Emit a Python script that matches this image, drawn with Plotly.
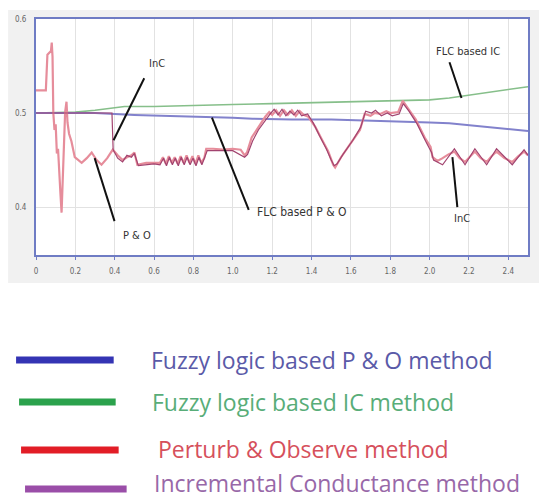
import plotly.graph_objects as go

# ---- data -------------------------------------------------------------
x_ticks = [0, 0.2, 0.4, 0.6, 0.8, 1.0, 1.2, 1.4, 1.6, 1.8, 2.0, 2.2, 2.4]
x_tick_text = ["0", "0.2", "0.4", "0.6", "0.8", "1.0", "1.2", "1.4", "1.6", "1.8", "2.0", "2.2", "2.4"]
y_ticks = [0.4, 0.5, 0.6]
y_tick_text = ["0.4", "0.5", "0.6"]

# Fuzzy logic based P & O
flc_po_t = [0, 0.3, 0.5, 0.7, 0.9, 1.0, 1.1, 1.3, 1.5, 1.7, 1.9, 2.0, 2.1, 2.2, 2.3, 2.4, 2.5]
flc_po_v = [0.500, 0.500, 0.498, 0.497, 0.496, 0.495, 0.494, 0.493, 0.493, 0.492,
            0.491, 0.490, 0.489, 0.487, 0.485, 0.483, 0.481]

# Fuzzy logic based IC
flc_ic_t = [0, 0.2, 0.3, 0.4, 0.45, 0.6, 0.9, 1.0, 1.2, 1.6, 1.9, 2.0, 2.1, 2.2, 2.3, 2.4, 2.5]
flc_ic_v = [0.500, 0.501, 0.503, 0.506, 0.507, 0.507, 0.508, 0.509, 0.510, 0.512,
            0.513, 0.514, 0.516, 0.519, 0.522, 0.525, 0.528]

# Perturb & Observe
po_t = [0.000, 0.050, 0.058, 0.070, 0.076, 0.080, 0.084, 0.088, 0.094, 0.100,
        0.106, 0.112, 0.118, 0.124, 0.130, 0.136, 0.142, 0.148, 0.155, 0.160,
        0.168, 0.180, 0.197, 0.215, 0.232, 0.258, 0.283, 0.308, 0.333, 0.362,
        0.390, 0.415, 0.440, 0.462, 0.485, 0.500, 0.515, 0.560, 0.600, 0.630,
        0.645, 0.660, 0.675, 0.690, 0.705, 0.720, 0.735, 0.750, 0.765, 0.780,
        0.795, 0.810, 0.825, 0.840, 0.855, 0.865, 0.900, 0.950, 1.000, 1.040,
        1.060, 1.072, 1.096, 1.130, 1.165, 1.185, 1.200, 1.220, 1.240, 1.260,
        1.280, 1.300, 1.320, 1.340, 1.360, 1.384, 1.420, 1.450, 1.485, 1.510,
        1.520, 1.550, 1.600, 1.646, 1.670, 1.700, 1.720, 1.750, 1.780, 1.800,
        1.840, 1.864, 1.890, 1.930, 1.975, 2.005, 2.015, 2.040, 2.066, 2.096,
        2.126, 2.153, 2.180, 2.205, 2.230, 2.260, 2.290, 2.315, 2.340, 2.380,
        2.420, 2.450, 2.480, 2.500]
po_v = [0.524, 0.524, 0.562, 0.565, 0.566, 0.575, 0.560, 0.500, 0.482, 0.488,
        0.457, 0.462, 0.432, 0.415, 0.394, 0.430, 0.482, 0.501, 0.512, 0.490,
        0.478, 0.470, 0.453, 0.450, 0.447, 0.452, 0.458, 0.450, 0.445, 0.452,
        0.461, 0.455, 0.450, 0.453, 0.455, 0.458, 0.445, 0.447, 0.447, 0.447,
        0.453, 0.446, 0.454, 0.447, 0.453, 0.446, 0.454, 0.447, 0.455, 0.447,
        0.454, 0.446, 0.455, 0.447, 0.452, 0.462, 0.462, 0.461, 0.462, 0.461,
        0.455, 0.458, 0.474, 0.485, 0.496, 0.501, 0.498, 0.503, 0.497, 0.503,
        0.498, 0.503, 0.497, 0.502, 0.498, 0.496, 0.485, 0.473, 0.459, 0.445,
        0.442, 0.453, 0.468, 0.482, 0.499, 0.497, 0.500, 0.499, 0.502, 0.500,
        0.501, 0.513, 0.505, 0.493, 0.474, 0.464, 0.453, 0.449, 0.452, 0.456,
        0.459, 0.452, 0.448, 0.454, 0.459, 0.452, 0.448, 0.454, 0.459, 0.452,
        0.448, 0.454, 0.459, 0.455]

# Incremental Conductance
inc_t = [0.000, 0.386, 0.392, 0.415, 0.440, 0.462, 0.485, 0.500, 0.520, 0.560,
         0.600, 0.630, 0.648, 0.663, 0.678, 0.693, 0.708, 0.723, 0.738, 0.753,
         0.768, 0.783, 0.798, 0.813, 0.828, 0.843, 0.870, 1.000, 1.060, 1.075,
         1.100, 1.130, 1.170, 1.190, 1.210, 1.230, 1.250, 1.270, 1.290, 1.310,
         1.330, 1.350, 1.380, 1.410, 1.440, 1.475, 1.500, 1.515, 1.530, 1.560,
         1.610, 1.650, 1.675, 1.705, 1.725, 1.755, 1.785, 1.810, 1.845, 1.866,
         1.895, 1.935, 1.980, 2.010, 2.020, 2.066, 2.126, 2.180, 2.230, 2.290,
         2.340, 2.420, 2.480, 2.500]
inc_v = [0.500, 0.500, 0.461, 0.452, 0.448, 0.455, 0.453, 0.457, 0.444, 0.445,
         0.446, 0.445, 0.452, 0.444, 0.453, 0.445, 0.452, 0.444, 0.453, 0.445,
         0.453, 0.445, 0.452, 0.444, 0.453, 0.445, 0.460, 0.460, 0.453, 0.456,
         0.470, 0.482, 0.494, 0.499, 0.504, 0.498, 0.504, 0.497, 0.502, 0.498,
         0.503, 0.497, 0.499, 0.489, 0.476, 0.462, 0.450, 0.444, 0.446, 0.456,
         0.471, 0.485, 0.502, 0.500, 0.503, 0.497, 0.500, 0.497, 0.499, 0.510,
         0.502, 0.489, 0.470, 0.458, 0.450, 0.445, 0.462, 0.445, 0.462, 0.445,
         0.462, 0.445, 0.461, 0.455]

legend_labels = ["Fuzzy logic based P & O method", "Fuzzy logic based IC method",
                 "Perturb & Observe method", "Incremental Conductance method"]
legend_line_colors = ["#3434b4", "#2ba24c", "#e21d26", "#9a4ea8"]
legend_text_colors = ["#5a5aa8", "#58ad78", "#d6505c", "#9868a8"]

# ---- page geometry (pixels) ------------------------------------------
W, H = 539, 498
L, R, T, B = 36, 530, 19, 255   # plot area box


def px(xp):
    return (xp - L) / (R - L)


def py(yp):
    return (B - yp) / (B - T)


fig = go.Figure()

fig.add_trace(go.Scatter(x=flc_ic_t, y=flc_ic_v, mode="lines",
                         line=dict(color="#86bf8a", width=1.6)))
fig.add_trace(go.Scatter(x=flc_po_t, y=flc_po_v, mode="lines",
                         line=dict(color="#8282cc", width=2)))
fig.add_trace(go.Scatter(x=po_t, y=po_v, mode="lines",
                         line=dict(color="#e68d9b", width=2.2)))
fig.add_trace(go.Scatter(x=inc_t, y=inc_v, mode="lines",
                         line=dict(color="#a2436f", width=1.2)))

shapes = []
# grey panel behind the chart
shapes.append(dict(type="rect", xref="paper", yref="paper", layer="below",
                   x0=px(8), x1=px(W + 2), y0=py(283), y1=py(10),
                   fillcolor="#f1f1f1", line=dict(width=0)))
shapes.append(dict(type="rect", xref="x domain", yref="y domain", layer="below",
                   x0=0, x1=1, y0=0, y1=1, fillcolor="white", line=dict(width=0)))

# pointer lines for the curve labels
pointers = [
    ((0.550, 0.537), (0.394, 0.471)),
    ((0.399, 0.385), (0.298, 0.452)),
    ((0.894, 0.495), (1.081, 0.397)),
    ((2.101, 0.554), (2.162, 0.516)),
    ((2.116, 0.453), (2.141, 0.400)),
]
for (xa, ya), (xb, yb) in pointers:
    shapes.append(dict(type="line", xref="x", yref="y", x0=xa, y0=ya, x1=xb, y1=yb,
                       line=dict(color="#111111", width=2)))

annotations = []
curve_labels = [
    ("InC", 0.615, 0.553, 11),
    ("P & O", 0.515, 0.370, 11),
    ("FLC based P & O", 1.35, 0.395, 12),
    ("FLC based IC", 2.197, 0.565, 11),
    ("InC", 2.167, 0.388, 11),
]
for txt, xa, ya, fs in curve_labels:
    annotations.append(dict(x=xa, y=ya, xref="x", yref="y", text=txt, showarrow=False,
                            font=dict(family="Liberation Sans Narrow, DejaVu Sans Condensed, sans-serif",
                                      size=fs, color="#333333")))

# legend block beneath the chart
legend_y = [360, 402, 449, 483]
legend_line_y = [360, 402, 450, 489]
legend_x0 = [16, 19, 21, 25]
legend_x1 = [114, 116, 119, 127]
text_x = [150, 151, 157, 153]
for i, lab in enumerate(legend_labels):
    shapes.append(dict(type="line", xref="paper", yref="paper",
                       x0=px(legend_x0[i]), x1=px(legend_x1[i]),
                       y0=py(legend_line_y[i]), y1=py(legend_line_y[i]),
                       line=dict(color=legend_line_colors[i], width=7)))
    annotations.append(dict(x=px(text_x[i]), y=py(legend_y[i]), xref="paper", yref="paper",
                            xanchor="left", yanchor="middle", text=lab, showarrow=False,
                            borderpad=0,
                            font=dict(family="Open Sans, sans-serif", size=23,
                                      color=legend_text_colors[i])))

fig.update_layout(
    width=W, height=H,
    margin=dict(l=L, r=W - R, t=T, b=H - B),
    paper_bgcolor="white", plot_bgcolor="white",
    showlegend=False,
    shapes=shapes, annotations=annotations,
)
fig.update_xaxes(range=[0, 2.5], tickvals=x_ticks, ticktext=x_tick_text,
                 showgrid=True, gridcolor="#e2e2e2", gridwidth=1, zeroline=False,
                 showline=True, mirror=True, linecolor="#6f7cc4", linewidth=2,
                 ticks="outside", ticklen=3, tickcolor="#6f7cc4", ticklabelstandoff=4,
                 tickfont=dict(family="Liberation Sans Narrow, DejaVu Sans Condensed, sans-serif",
                               size=8, color="#666666"))
fig.update_yaxes(range=[0.349, 0.6], tickvals=y_ticks, ticktext=y_tick_text,
                 showgrid=True, gridcolor="#e2e2e2", gridwidth=1, zeroline=False,
                 showline=True, mirror=True, linecolor="#6f7cc4", linewidth=2,
                 ticks="", ticklabelstandoff=6,
                 tickfont=dict(family="Liberation Sans Narrow, DejaVu Sans Condensed, sans-serif",
                               size=8, color="#666666"))

fig.write_html("out.html")
